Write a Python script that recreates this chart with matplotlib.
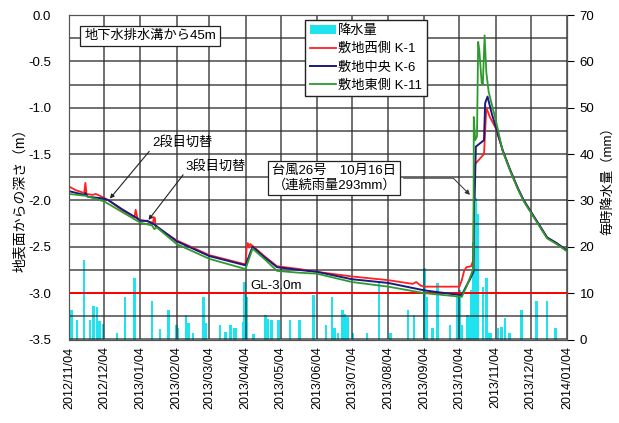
import matplotlib
matplotlib.use('Agg')
import matplotlib.pyplot as plt
import matplotlib.dates as mdates
from matplotlib.ticker import MultipleLocator, FormatStrFormatter
import numpy as np
import pandas as pd

plt.rcParams['font.family'] = ['Liberation Sans', 'Noto Sans CJK JP']

# 毎時降水量 (mm)
rain_dates = ['2012-11-06', '2012-11-11', '2012-11-17', '2012-11-22', '2012-11-25', '2012-11-28',
              '2012-11-30', '2012-12-03', '2012-12-15', '2012-12-22', '2012-12-30',
              '2013-01-14', '2013-01-21', '2013-01-28', '2013-02-04', '2013-02-05', '2013-02-12',
              '2013-02-14', '2013-02-18', '2013-02-27', '2013-03-01',
              '2013-03-13', '2013-03-18', '2013-03-22', '2013-03-25', '2013-03-27', '2013-04-02',
              '2013-04-03', '2013-04-05', '2013-04-11', '2013-04-21', '2013-04-23', '2013-04-26',
              '2013-05-02', '2013-05-12', '2013-05-20', '2013-06-01', '2013-06-12', '2013-06-17',
              '2013-06-19', '2013-06-22', '2013-06-26', '2013-06-28', '2013-06-30',
              '2013-07-05', '2013-07-17', '2013-07-27', '2013-08-06', '2013-08-21', '2013-08-26',
              '2013-09-04', '2013-09-06', '2013-09-11', '2013-09-15', '2013-09-26',
              '2013-10-02', '2013-10-04', '2013-10-06', '2013-10-11', '2013-10-13', '2013-10-14',
              '2013-10-16', '2013-10-18', '2013-10-20', '2013-10-24', '2013-10-27', '2013-10-29',
              '2013-10-31',
              '2013-11-06', '2013-11-09', '2013-11-12', '2013-11-16', '2013-11-26', '2013-12-09',
              '2013-12-18', '2013-12-25']
rain_mm = [6.4, 4.2, 17.1, 4.2, 7.3, 7.1, 4.0, 3.4, 1.4, 9.2, 13.3,
           8.2, 2.3, 6.4, 3.1, 2.5, 5.3, 3.5, 1.4, 9.2, 3.5,
           3.1, 1.7, 3.1, 2.5, 2.5, 3.8, 12.3, 9.2, 1.2, 5.3, 4.5, 4.1,
           4.1, 4.1, 4.1, 9.6, 3.1, 9.2, 2.5, 1.4, 6.4, 5.6, 4.9,
           1.4, 1.4, 12.1, 1.4, 6.4, 5.3, 15.4, 9.2, 2.5, 12.1, 3.1,
           9.2, 10.7, 3.1, 5.3, 4.9, 10.7, 21.0, 30.5, 27.0, 11.4, 13.2, 1.4, 1.4,
           2.5, 2.8, 4.6, 1.4, 6.4, 8.4, 8.2, 2.5]

# 敷地西側 K-1
k1_dates = ['2012-11-04', '2012-11-10', '2012-11-17', '2012-11-18', '2012-11-19', '2012-11-24',
            '2012-11-27', '2012-12-02', '2012-12-08', '2012-12-20', '2012-12-30', '2012-12-31',
            '2013-01-01 12:00', '2013-01-04', '2013-01-15', '2013-01-15 12:00', '2013-01-16 12:00',
            '2013-01-17', '2013-02-04', '2013-03-04', '2013-04-04', '2013-04-05', '2013-04-06',
            '2013-04-07', '2013-04-08', '2013-04-11', '2013-04-20', '2013-05-01', '2013-05-20',
            '2013-06-04', '2013-07-04', '2013-08-04', '2013-08-25', '2013-08-28', '2013-09-01',
            '2013-09-04', '2013-10-04', '2013-10-06', '2013-10-08', '2013-10-10', '2013-10-14',
            '2013-10-16', '2013-10-16 12:00', '2013-10-25', '2013-10-27', '2013-10-30',
            '2013-11-04', '2013-11-10', '2013-11-16', '2013-11-23', '2013-11-28', '2013-12-04',
            '2013-12-12', '2013-12-18', '2013-12-22', '2013-12-26', '2014-01-04']
k1_depth = [-1.85, -1.89, -1.92, -1.81, -1.93, -1.94,
            -1.93, -1.96, -2.00, -2.11, -2.18, -2.10,
            -2.19, -2.21, -2.24, -2.18, -2.19,
            -2.28, -2.43, -2.59, -2.69, -2.50, -2.46,
            -2.51, -2.47, -2.50, -2.60, -2.71, -2.74,
            -2.77, -2.82, -2.86, -2.90, -2.88, -2.92,
            -2.93, -2.93, -2.86, -2.76, -2.72, -2.71,
            -2.64, -1.62, -1.50, -1.00, -1.10,
            -1.22, -1.46, -1.66, -1.87, -2.00, -2.12,
            -2.28, -2.40, -2.43, -2.46, -2.54]

# 敷地中央 K-6
k6_dates = ['2012-11-04', '2012-11-17', '2012-11-18', '2012-11-20', '2012-12-04', '2012-12-08',
            '2012-12-20', '2013-01-01', '2013-01-04', '2013-01-10', '2013-01-16', '2013-02-04',
            '2013-03-04', '2013-04-04', '2013-04-10', '2013-04-20', '2013-05-01', '2013-05-20',
            '2013-06-04', '2013-07-04', '2013-08-04', '2013-09-04', '2013-10-04', '2013-10-06',
            '2013-10-10', '2013-10-13', '2013-10-16', '2013-10-16 12:00', '2013-10-17',
            '2013-10-18', '2013-10-25', '2013-10-26', '2013-10-28', '2013-11-01',
            '2013-11-04', '2013-11-10', '2013-11-16', '2013-11-23', '2013-11-28', '2013-12-04',
            '2013-12-12', '2013-12-18', '2013-12-22', '2013-12-26', '2014-01-04']
k6_depth = [-1.90, -1.94, -1.92, -1.96, -1.98, -2.00,
            -2.10, -2.19, -2.22, -2.22, -2.26, -2.44,
            -2.60, -2.70, -2.50, -2.61, -2.72, -2.75,
            -2.77, -2.85, -2.89, -2.97, -3.02, -3.02,
            -2.92, -2.85, -2.77, -2.00, -1.97,
            -1.42, -1.35, -0.95, -0.88, -1.08,
            -1.20, -1.46, -1.66, -1.87, -2.00, -2.12,
            -2.28, -2.40, -2.43, -2.46, -2.54]

# 敷地東側 K-11
k11_dates = ['2012-11-04', '2012-11-18', '2012-12-04', '2013-01-04', '2013-01-14', '2013-01-16',
             '2013-01-18', '2013-02-04', '2013-03-04', '2013-04-04', '2013-04-10', '2013-04-20',
             '2013-05-01', '2013-05-20', '2013-06-04', '2013-07-04', '2013-08-04', '2013-09-04',
             '2013-10-06', '2013-10-10', '2013-10-14', '2013-10-16', '2013-10-16 06:00',
             '2013-10-17 12:00', '2013-10-19', '2013-10-20', '2013-10-21', '2013-10-23',
             '2013-10-24', '2013-10-25 12:00', '2013-10-27', '2013-10-29',
             '2013-11-04', '2013-11-10', '2013-11-16', '2013-11-23', '2013-11-28', '2013-12-04',
             '2013-12-12', '2013-12-18', '2013-12-22', '2013-12-26', '2014-01-04']
k11_depth = [-1.93, -1.95, -2.01, -2.24, -2.27, -2.31,
             -2.29, -2.47, -2.63, -2.74, -2.52, -2.63,
             -2.76, -2.78, -2.79, -2.88, -2.93, -3.00,
             -3.04, -2.93, -2.80, -2.73, -1.10,
             -1.35, -1.31, -0.29, -0.38, -0.73,
             -0.75, -0.22, -0.62, -0.83,
             -1.13, -1.47, -1.67, -1.88, -2.01, -2.13,
             -2.29, -2.41, -2.44, -2.47, -2.55]

gl_level = -3.0
grid_color = '#2a2a2a'


def to_dt(values):
    return pd.to_datetime(values, format='mixed')


fig = plt.figure(figsize=(6.19, 4.23), dpi=100)
ax = fig.add_axes([69 / 619, 1 - 339.5 / 423, 498 / 619, 324.5 / 423])
ax2 = ax.twinx()
ax.set_zorder(ax2.get_zorder() + 1)
ax.patch.set_visible(False)

ax.set_xlim(pd.Timestamp('2012-11-04'), pd.Timestamp('2014-01-04'))
ax.set_ylim(-3.5, 0)
ax.xaxis.set_major_locator(mdates.MonthLocator(bymonthday=4))
ax.xaxis.set_major_formatter(mdates.DateFormatter('%Y/%m/%d'))
ax.yaxis.set_major_locator(MultipleLocator(0.5))
ax.yaxis.set_minor_locator(MultipleLocator(0.25))
ax.yaxis.set_major_formatter(FormatStrFormatter('%.1f'))

ax2.set_ylim(0, 70)
ax2.yaxis.set_major_locator(MultipleLocator(10))

# 格子線（月ごと・0.25m ごと）
grid_x = ax.get_xticks()
grid_y = np.concatenate([ax.yaxis.get_majorticklocs(), ax.yaxis.get_minorticklocs()])
ax.vlines(grid_x, -3.5, 0, colors=grid_color, linewidths=1.1, alpha=0.85, zorder=1.9)
ax.hlines(grid_y, grid_x[0], grid_x[-1], colors=grid_color, linewidths=1.1, alpha=0.85,
          zorder=1.9)

# 降水量（右軸）
bars = ax2.bar(to_dt(rain_dates), rain_mm, width=2.2, color='#1FE3EE',
               linewidth=0, label='降水量', zorder=3)
ax2.tick_params(axis='y', which='major', length=5, width=0.8, pad=4, labelsize=9.5)
ax2.set_ylabel('毎時降水量（mm）', fontsize=9.5)
ax2.yaxis.set_label_coords(1.068, 0.5)

# 地下水位（左軸）
ax.axhline(gl_level, color='#FF0000', lw=1.4, zorder=1.95)
l1, = ax.plot(to_dt(k1_dates), k1_depth, color='#FF2020', lw=1.3, label='敷地西側 K-1', zorder=2)
l2, = ax.plot(to_dt(k6_dates), k6_depth, color='#1A1A80', lw=1.4, label='敷地中央 K-6', zorder=2)
l3, = ax.plot(to_dt(k11_dates), k11_depth, color='#2E9A2E', lw=1.3, label='敷地東側 K-11', zorder=2)

ax.tick_params(axis='x', length=0, pad=5, labelsize=9, labelrotation=90)
ax.tick_params(axis='y', which='both', length=0, pad=13, labelsize=9.5)
ax.set_ylabel('地表面からの深さ（m）', fontsize=10)
ax.yaxis.set_label_coords(-0.085, 0.44)

for sp in ax.spines.values():
    sp.set_color('#555555')
for sp in ax2.spines.values():
    sp.set_color('#555555')

# 注記
box = dict(boxstyle='square,pad=0.3', fc='white', ec='#222222', lw=0.9)
ax.text(pd.Timestamp('2012-11-17'), -0.23, '地下水排水溝から45m', fontsize=9.5,
        va='center', ha='left', bbox=box, zorder=4)
ax.text(pd.Timestamp('2013-04-08'), -2.985, 'GL-3.0m', fontsize=9.5, va='bottom', ha='left',
        zorder=4)

arrow = dict(arrowstyle='-|>', color='#222222', lw=0.8, mutation_scale=6,
             shrinkA=0, shrinkB=0, relpos=(0, 0.1))
ax.annotate('2段目切替', xy=(pd.Timestamp('2012-12-09'), -1.98),
            xytext=(pd.Timestamp('2013-01-14'), -1.38), fontsize=9.5,
            va='center', ha='left', arrowprops=arrow, zorder=4)
ax.annotate('3段目切替', xy=(pd.Timestamp('2013-01-11'), -2.21),
            xytext=(pd.Timestamp('2013-02-12'), -1.63), fontsize=9.5,
            va='center', ha='left', arrowprops=arrow, zorder=4)
ax.annotate('台風26号　10月16日\n（連続雨量293mm）', xy=(pd.Timestamp('2013-10-13'), -1.94),
            xytext=(pd.Timestamp('2013-04-27'), -1.76), fontsize=9.5,
            va='center', ha='left', multialignment='left', bbox=box, zorder=4,
            arrowprops=dict(arrowstyle='-|>', color='#333333', lw=0.7, mutation_scale=7,
                            shrinkB=0, connectionstyle='angle,angleA=0,angleB=135,rad=0'))

ax.legend(handles=[bars, l1, l2, l3], loc='upper left', bbox_to_anchor=(0.474, 0.985),
          borderaxespad=0, fontsize=9.5, handlelength=2.0, handletextpad=0.15,
          borderpad=0.35, labelspacing=0.45, fancybox=False, framealpha=1,
          edgecolor='#222222')

fig.savefig('out.png', dpi=100)
